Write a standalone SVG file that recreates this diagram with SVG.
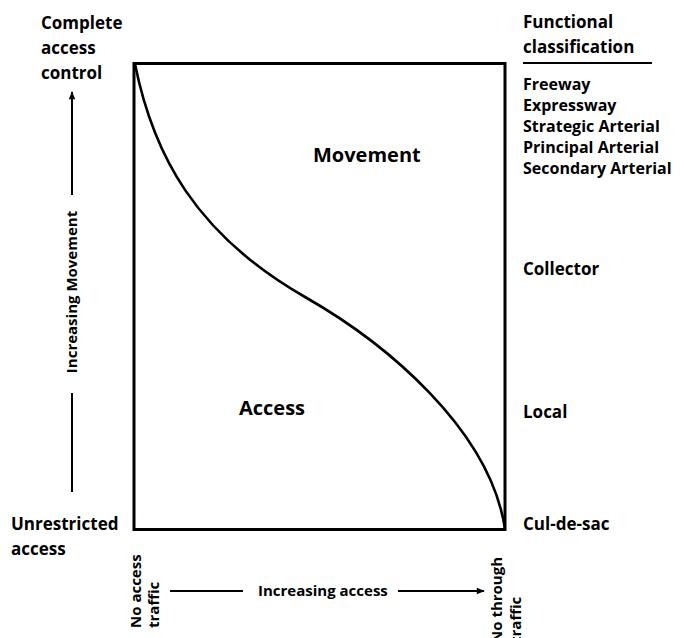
<svg xmlns="http://www.w3.org/2000/svg" width="689" height="638" viewBox="0 0 689 638">
  <style>
    text { font-family: "Open Sans", "Noto Sans", "Liberation Sans", sans-serif; font-weight: 700; fill: #000; }
    .lbl { font-size: 17px; }
    .cls { font-size: 16px; }
    .zone { font-size: 20px; }
    .axis { font-size: 15px; }
    .frame { fill: none; stroke: #000; stroke-width: 3; }
    .curve { fill: none; stroke: #000; stroke-width: 2.6; }
    .arr { fill: none; stroke: #000; stroke-width: 2; }
  </style>
  <defs>
    <marker id="head" viewBox="0 0 10 10" refX="9" refY="5" markerWidth="10" markerHeight="8" markerUnits="userSpaceOnUse" orient="auto">
      <path d="M0,1 L10,5 L0,9 Z" fill="#000"/>
    </marker>
  </defs>

  <!-- chart frame and movement/access curve -->
  <g id="chart">
    <rect class="frame" x="134" y="63.5" width="371" height="466"/>
    <path class="curve" d="M135,64 C153,154 195,234 305,297 C385,342.6 490,429 505,529"/>
  </g>

  <g id="zone-movement"><text class="zone" x="313" y="162">Movement</text></g>
  <g id="zone-access"><text class="zone" x="239" y="415">Access</text></g>

  <!-- vertical axis labels -->
  <g id="label-top">
    <text class="lbl" x="41" y="29">Complete</text>
    <text class="lbl" x="41" y="54">access</text>
    <text class="lbl" x="41" y="79">control</text>
  </g>
  <g id="label-bottom">
    <text class="lbl" x="11" y="530">Unrestricted</text>
    <text class="lbl" x="11" y="555">access</text>
  </g>

  <!-- functional classification column -->
  <g id="classification">
    <text class="lbl" x="523" y="28">Functional</text>
    <text class="lbl" x="523" y="53">classification</text>
    <line x1="523" y1="63" x2="652" y2="63" stroke="#000" stroke-width="1.8"/>
    <text class="cls" x="523" y="90">Freeway</text>
    <text class="cls" x="523" y="111">Expressway</text>
    <text class="cls" x="523" y="132">Strategic Arterial</text>
    <text class="cls" x="523" y="153">Principal Arterial</text>
    <text class="cls" x="523" y="174">Secondary Arterial</text>
    <text class="lbl" x="523" y="275">Collector</text>
    <text class="lbl" x="523" y="418">Local</text>
    <text class="lbl" x="523" y="530">Cul-de-sac</text>
  </g>

  <!-- horizontal axis end labels -->
  <g id="label-left-end">
    <text class="axis" transform="translate(141,628) rotate(-90)">No access</text>
    <text class="axis" transform="translate(159,628) rotate(-90)">traffic</text>
  </g>
  <g id="label-right-end">
    <text class="axis" transform="translate(502,643) rotate(-90)">No through</text>
    <text class="axis" transform="translate(521,643) rotate(-90)">traffic</text>
  </g>

  <!-- axis labels placed along the arrows -->
  <g id="axis-movement">
    <text class="axis" text-anchor="middle" transform="translate(77,292) rotate(-90)">Increasing Movement</text>
  </g>
  <g id="axis-access">
    <text class="axis" x="258" y="596">Increasing access</text>
  </g>

  <!-- direction arrows -->
  <g id="connectors">
    <line class="arr" x1="72" y1="195" x2="72" y2="92" marker-end="url(#head)"/>
    <line class="arr" x1="72" y1="393" x2="72" y2="492"/>
    <line class="arr" x1="170" y1="591" x2="243" y2="591"/>
    <line class="arr" x1="398" y1="591" x2="484" y2="591" marker-end="url(#head)"/>
  </g>
</svg>
